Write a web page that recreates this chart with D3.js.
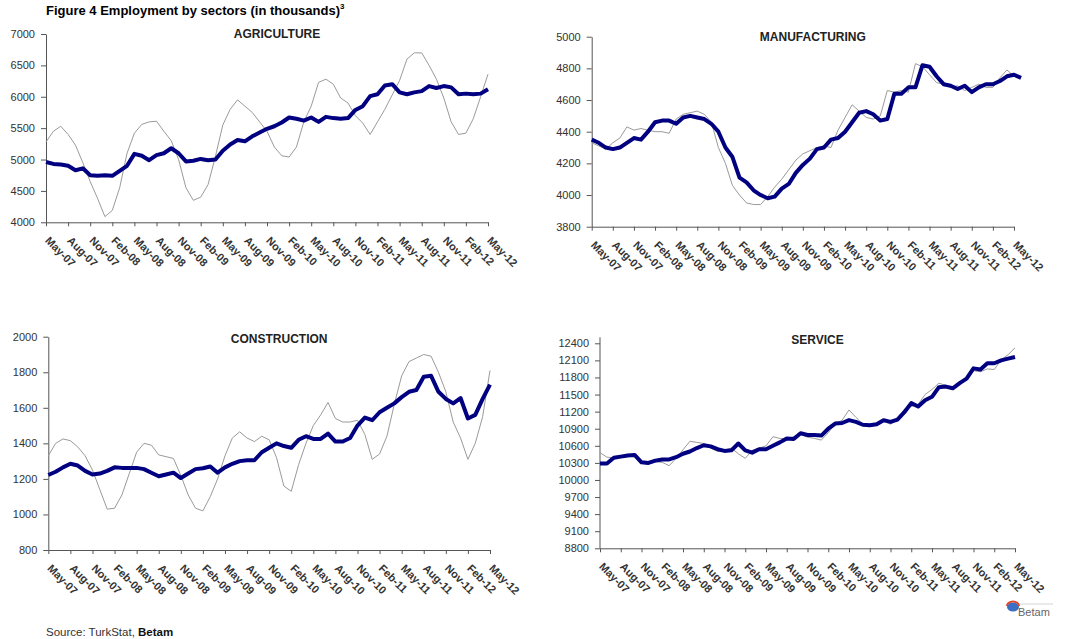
<!DOCTYPE html>
<html>
<head>
<meta charset="utf-8">
<script src="https://cdn.jsdelivr.net/npm/d3@7"></script>
<style>
  body { margin: 0; background: #fff; }
  svg { display: block; font-family: "Liberation Sans", Arial, sans-serif; }
</style>
</head>
<body>
<svg id="chart" width="1090" height="639"></svg>
<script>
const tickLabels = ["May-07","Aug-07","Nov-07","Feb-08","May-08","Aug-08","Nov-08","Feb-09",
  "May-09","Aug-09","Nov-09","Feb-10","May-10","Aug-10","Nov-10","Feb-11","May-11","Aug-11",
  "Nov-11","Feb-12","May-12"];

// monthly, May-07 .. May-12 (61 points)
const agriRaw = [5280,5450,5530,5400,5230,4950,4650,4380,4090,4190,4550,5100,5420,5560,5600,5610,
  5450,5300,5000,4550,4350,4400,4600,5050,5550,5800,5950,5850,5750,5600,5450,5200,5060,5040,5200,
  5600,5850,6230,6280,6200,5980,5900,5700,5580,5400,5600,5800,6030,6260,6600,6700,6700,6500,6280,
  5980,5600,5400,5420,5650,6000,6360];
const agriSA = [4960,4930,4920,4900,4830,4860,4750,4740,4750,4740,4820,4900,5090,5060,4990,5070,
  5100,5180,5100,4970,4980,5010,4990,5000,5140,5240,5310,5290,5370,5430,5490,5530,5590,5670,5650,
  5620,5670,5600,5680,5660,5650,5660,5790,5850,6010,6040,6180,6200,6070,6040,6070,6090,6170,6140,
  6170,6150,6040,6050,6040,6050,6120];

const manuRaw = [4330,4310,4290,4330,4360,4430,4410,4420,4410,4400,4400,4390,4480,4510,4520,4530,
  4510,4460,4300,4200,4060,4000,3950,3940,3940,3990,4050,4100,4160,4220,4260,4280,4300,4310,4300,
  4410,4490,4570,4530,4490,4480,4500,4660,4650,4660,4650,4830,4810,4760,4710,4700,4680,4690,4660,
  4680,4700,4680,4680,4740,4790,4750];
const manuSA = [4350,4330,4300,4290,4300,4330,4360,4350,4400,4460,4470,4470,4450,4490,4500,4490,
  4480,4450,4400,4300,4240,4110,4080,4030,4000,3980,3990,4040,4070,4140,4190,4230,4290,4300,4350,
  4360,4400,4460,4520,4530,4510,4470,4480,4640,4640,4680,4680,4820,4810,4750,4700,4690,4670,4690,
  4650,4680,4700,4700,4720,4750,4760,4740];

const consRaw = [1330,1400,1425,1415,1380,1330,1250,1140,1030,1035,1110,1230,1350,1400,1390,1335,
  1325,1315,1220,1110,1035,1020,1100,1200,1330,1430,1465,1430,1410,1440,1420,1320,1160,1130,1280,
  1400,1500,1560,1630,1540,1520,1520,1530,1450,1310,1340,1440,1620,1780,1860,1880,1900,1890,1800,
  1690,1520,1430,1310,1400,1550,1810];
const consSA = [1222,1240,1265,1285,1275,1245,1225,1230,1245,1265,1262,1262,1262,1255,1235,1215,
  1225,1235,1205,1230,1255,1260,1270,1235,1265,1285,1300,1305,1305,1350,1375,1400,1385,1375,1420,
  1440,1425,1425,1455,1410,1410,1430,1500,1545,1530,1575,1600,1625,1660,1690,1700,1775,1780,1690,
  1650,1625,1655,1540,1560,1650,1730];

const servRaw = [10480,10400,10390,10420,10440,10410,10290,10280,10320,10310,10250,10380,10530,
  10680,10660,10640,10560,10500,10520,10560,10460,10380,10520,10560,10600,10760,10730,10720,10760,
  10810,10750,10730,10700,10830,10980,11050,11230,11100,10980,10950,11000,11030,10980,11050,11240,
  11290,11330,11500,11590,11700,11660,11620,11690,11770,11920,11900,11950,11940,12110,12200,12320];
const servSA = [10290,10290,10390,10410,10430,10440,10310,10300,10340,10360,10360,10400,10460,
  10500,10560,10610,10590,10540,10510,10520,10640,10520,10480,10540,10540,10600,10660,10730,10720,
  10820,10790,10790,10780,10900,10990,11000,11050,11020,10970,10960,10980,11050,11020,11060,11190,
  11350,11290,11400,11460,11630,11640,11610,11700,11780,11960,11940,12050,12050,12100,12130,12160];

const panels = [
  { title: "AGRICULTURE", raw: agriRaw, sa: agriSA, x0: 46, x1: 488, yTop: 34, yBot: 222.3,
    domain: [4000, 7000], ticks: d3.range(4000, 7001, 500), titleY: 38 },
  { title: "MANUFACTURING", raw: manuRaw, sa: manuSA, x0: 591.7, x1: 1014, yTop: 36.7, yBot: 226.7,
    domain: [3800, 5000], ticks: d3.range(3800, 5001, 200), titleY: 41 },
  { title: "CONSTRUCTION", raw: consRaw, sa: consSA, x0: 48.3, x1: 490, yTop: 336.7, yBot: 550,
    domain: [800, 2000], ticks: d3.range(800, 2001, 200), titleY: 343 },
  { title: "SERVICE", raw: servRaw, sa: servSA, x0: 600, x1: 1015, yTop: 343.3, yBot: 548.3,
    domain: [8800, 12400], ticks: d3.range(8800, 12401, 300), titleY: 344 }
];

const svg = d3.select("#chart");

// figure title
const title = svg.append("text")
  .attr("x", 46).attr("y", 15)
  .style("font-size", "13px").style("font-weight", "bold").attr("fill", "#000")
  .text("Figure 4 Employment by sectors (in thousands)");
title.append("tspan").attr("dy", -6).style("font-size", "8px").text("3");

panels.forEach((p) => {
  const x = d3.scaleLinear().domain([0, 60]).range([p.x0, p.x1]);
  const y = d3.scaleLinear().domain(p.domain).range([p.yBot, p.yTop]);
  const g = svg.append("g");

  // y axis
  const ya = g.append("g")
    .attr("transform", `translate(${p.x0},0)`)
    .call(d3.axisLeft(y).tickValues(p.ticks).tickSize(5).tickSizeOuter(0).tickFormat(d3.format("d")));
  ya.select(".domain").attr("stroke", "#555");
  ya.selectAll(".tick line").attr("stroke", "#555");
  ya.selectAll("text")
    .attr("x", -11)
    .style("font-size", "11px").style("font-family", "Liberation Sans, Arial, sans-serif")
    .attr("fill", "#333");
  if (p.title === "SERVICE") {
    ya.select(".domain").attr("d", `M0,${p.yBot}V${p.yTop - 6}`);
  }

  // x axis
  const xa = g.append("g")
    .attr("transform", `translate(0,${p.yBot})`)
    .call(d3.axisBottom(x).tickValues(d3.range(0, 61, 3)).tickSize(4).tickSizeOuter(0)
      .tickFormat((d, i) => tickLabels[i]));
  xa.select(".domain").attr("stroke", "#555");
  xa.selectAll(".tick line").attr("stroke", "#555");
  xa.selectAll("text")
    .attr("text-anchor", "start")
    .attr("x", 0).attr("y", 0).attr("dy", null)
    .attr("transform", "translate(-2,19) rotate(45)")
    .style("font-size", "11px").style("font-weight", "bold")
    .style("font-family", "Liberation Sans, Arial, sans-serif")
    .attr("fill", "#333");

  // panel title
  g.append("text")
    .attr("x", (p.x0 + p.x1) / 2 + 10).attr("y", p.titleY)
    .attr("text-anchor", "middle")
    .style("font-size", "12px").style("font-weight", "bold").attr("fill", "#222")
    .text(p.title);

  const line = d3.line().x((d, i) => x(i)).y((d) => y(d));

  g.append("path")
    .datum(p.raw)
    .attr("fill", "none")
    .attr("stroke", "#9a9a9a")
    .attr("stroke-width", 1)
    .attr("d", line);

  g.append("path")
    .datum(p.sa)
    .attr("fill", "none")
    .attr("stroke", "#000080")
    .attr("stroke-width", 4)
    .attr("stroke-linejoin", "round")
    .attr("d", line);
});

// source
const src = svg.append("text")
  .attr("x", 46).attr("y", 636)
  .style("font-size", "11.5px").attr("fill", "#333")
  .text("Source: TurkStat, ");
src.append("tspan").style("font-weight", "bold").attr("fill", "#111").text("Betam");

// Betam logo
const logo = svg.append("g").attr("transform", "translate(1013,607)");
logo.append("ellipse").attr("cx", 0).attr("cy", 0).attr("rx", 6).attr("ry", 4.5).attr("fill", "#3b6fc4");
logo.append("path").attr("d", "M-6,-1 A6,4.5 0 0 1 6,-1").attr("fill", "none").attr("stroke", "#e0442c").attr("stroke-width", 2);
logo.append("line").attr("x1", 7).attr("x2", 40).attr("y1", -3).attr("y2", -3).attr("stroke", "#bbb").attr("stroke-width", 0.6);
logo.append("text").attr("x", 5).attr("y", 9)
  .style("font-size", "11px").attr("fill", "#666").text("Betam");
</script>
</body>
</html>
